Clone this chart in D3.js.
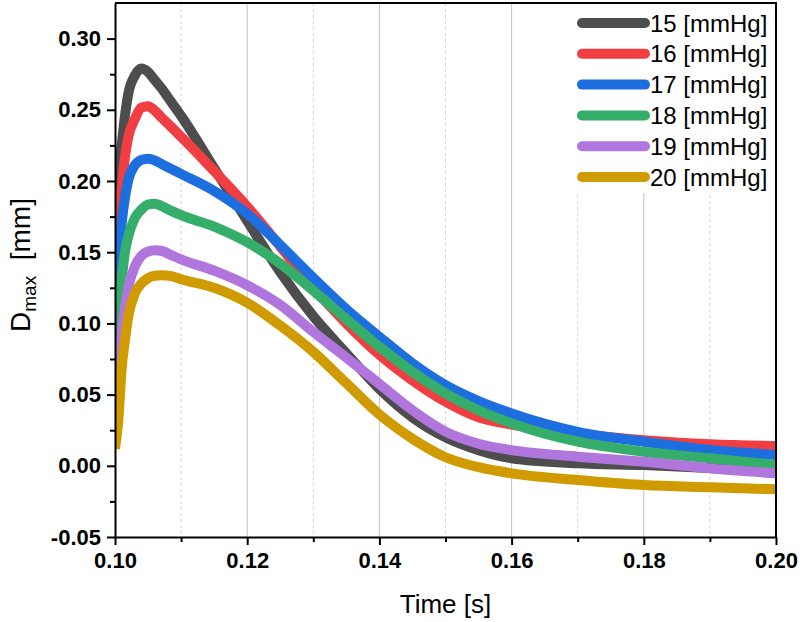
<!DOCTYPE html>
<html>
<head>
<meta charset="utf-8">
<script src="https://cdn.jsdelivr.net/npm/d3@7"></script>
<style>
  body { margin: 0; background: #fff; }
  .axis text { font-family: "Liberation Sans", Arial, sans-serif; font-weight: bold; font-size: 22px; fill: #000; }
  .axis path, .axis line { stroke: #000; stroke-width: 2; }
  .label { font-family: "Liberation Sans", Arial, sans-serif; fill: #000; }
</style>
</head>
<body>
<div id="chart"></div>
<script>
// time (s), shared by every curve
const times = [0.1000, 0.1005, 0.1010, 0.1015, 0.1020, 0.1030, 0.1040, 0.1050, 0.1060, 0.1070, 0.1085, 0.1100,
    0.1150, 0.1200, 0.1250, 0.1300, 0.1350, 0.1400, 0.1450, 0.1500, 0.1550, 0.1600, 0.1700, 0.1800, 0.1900, 0.2000];

// Dmax (mm) for each pressure
const p15 = [0.190, 0.208, 0.225, 0.2455, 0.261, 0.274, 0.279, 0.2766, 0.271, 0.2653, 0.2555, 0.2457,
    0.209, 0.172, 0.136, 0.105, 0.079, 0.054, 0.034, 0.020, 0.011, 0.0053, 0.0018, 0.0005, -0.0015, -0.004];
const p16 = [0.155, 0.175, 0.193, 0.2168, 0.2308, 0.2435, 0.2515, 0.2525, 0.2495, 0.2448, 0.238, 0.231,
    0.207, 0.182, 0.154, 0.125, 0.100, 0.078, 0.060, 0.045, 0.034, 0.029, 0.0225, 0.018, 0.0151, 0.0139];
const p17 = [0.120, 0.142, 0.170, 0.188, 0.2005, 0.211, 0.2148, 0.2157, 0.2145, 0.212, 0.2085, 0.205,
    0.193, 0.177, 0.155, 0.132, 0.110, 0.0906, 0.072, 0.0567, 0.0455, 0.0368, 0.0239, 0.0169, 0.0111, 0.0076];
const p18 = [0.082, 0.105, 0.130, 0.150, 0.161, 0.174, 0.180, 0.1835, 0.1841, 0.1825, 0.179, 0.176,
    0.168, 0.157, 0.142, 0.123, 0.103, 0.0836, 0.066, 0.0509, 0.039, 0.0298, 0.0169, 0.0099, 0.0053, 0.0006];
const p19 = [0.048, 0.062, 0.092, 0.111, 0.125, 0.140, 0.1475, 0.1505, 0.1514, 0.151, 0.148, 0.145,
    0.137, 0.1268, 0.113, 0.094, 0.076, 0.0575, 0.039, 0.024, 0.0155, 0.011, 0.0064, 0.0029, -0.0018, -0.0053];
const p20 = [0.012, 0.032, 0.068, 0.088, 0.1046, 0.121, 0.128, 0.1318, 0.1335, 0.1338, 0.1332, 0.131,
    0.125, 0.1145, 0.0985, 0.080, 0.058, 0.036, 0.019, 0.006, -0.001, -0.0053, -0.010, -0.0135, -0.0151, -0.0165];

const labels = ["15 [mmHg]", "16 [mmHg]", "17 [mmHg]", "18 [mmHg]", "19 [mmHg]", "20 [mmHg]"];
const colors = ["#4d4d4d", "#f03e42", "#1d6fe0", "#35ad6b", "#b076de", "#cf9b00"];

const xTicks = [0.10, 0.12, 0.14, 0.16, 0.18, 0.20];
const xMinor = [0.11, 0.13, 0.15, 0.17, 0.19];
const yTicks = [-0.05, 0.00, 0.05, 0.10, 0.15, 0.20, 0.25, 0.30];
const yMinor = [-0.025, 0.025, 0.075, 0.125, 0.175, 0.225, 0.275];

const series = [p15, p16, p17, p18, p19, p20];

const W = 800, H = 622;
const margin = { top: 3, right: 24, bottom: 85, left: 115 };
const width = W - margin.left - margin.right,
    height = H - margin.top - margin.bottom;

const svg = d3.select("#chart").append("svg")
    .attr("width", W)
    .attr("height", H);

const g = svg.append("g")
    .attr("transform", `translate(${margin.left},${margin.top})`);

const xScale = d3.scaleLinear().domain([0.10, 0.20]).range([0, width]);
const yScale = d3.scaleLinear().domain([-0.05, 0.325]).range([height, 0]);

// vertical grid: solid on majors, dashed on minors
g.append("g").selectAll("line")
    .data(xTicks.slice(1, -1))
    .join("line")
    .attr("x1", d => xScale(d)).attr("x2", d => xScale(d))
    .attr("y1", 0).attr("y2", height)
    .attr("stroke", "#c4c4c4").attr("stroke-width", 1);

g.append("g").selectAll("line")
    .data(xMinor)
    .join("line")
    .attr("x1", d => xScale(d)).attr("x2", d => xScale(d))
    .attr("y1", 0).attr("y2", height)
    .attr("stroke", "#d2d2d2").attr("stroke-width", 1)
    .attr("stroke-dasharray", "3,3");

// curves
g.append("clipPath").attr("id", "plotclip")
    .append("rect").attr("width", width).attr("height", height);

const line = d3.line()
    .curve(d3.curveMonotoneX)
    .x((d, i) => xScale(times[i]))
    .y(d => yScale(d));

g.append("g")
    .attr("clip-path", "url(#plotclip)")
    .selectAll("path")
    .data(series)
    .join("path")
    .attr("fill", "none")
    .attr("stroke", (d, i) => colors[i])
    .attr("stroke-width", 10)
    .attr("stroke-linejoin", "round")
    .attr("stroke-linecap", "butt")
    .attr("d", line);

// legend (white box hides the grid behind it)
const legend = g.append("g");
legend.append("rect")
    .attr("x", xScale(0.1693)).attr("y", 0)
    .attr("width", width - xScale(0.1693)).attr("height", 190)
    .attr("fill", "#fff");

labels.forEach(function (lab, i) {
    const y = 20 + i * 30.8;
    legend.append("line")
        .attr("x1", 467).attr("x2", 530)
        .attr("y1", y).attr("y2", y)
        .attr("stroke", colors[i])
        .attr("stroke-width", 10)
        .attr("stroke-linecap", "round");
    legend.append("text")
        .attr("class", "label")
        .attr("x", 535).attr("y", y + 8.5)
        .attr("font-size", 24)
        .text(lab);
});

// axes
const xAxis = d3.axisBottom(xScale)
    .tickValues(xTicks)
    .tickSize(8)
    .tickSizeOuter(0)
    .tickPadding(7)
    .tickFormat(d => d.toFixed(2));

const yAxis = d3.axisLeft(yScale)
    .tickValues(yTicks)
    .tickSize(8)
    .tickSizeOuter(0)
    .tickPadding(6)
    .tickFormat(d => d.toFixed(2));

g.append("g")
    .attr("class", "axis x-axis")
    .attr("transform", `translate(0, ${height})`)
    .call(xAxis);

g.append("g")
    .attr("class", "axis")
    .attr("transform", `translate(0, ${height})`)
    .call(d3.axisBottom(xScale).tickValues(xMinor).tickSize(5).tickFormat(""))
    .call(a => a.select(".domain").remove());

g.append("g")
    .attr("class", "axis y-axis")
    .call(yAxis);

g.append("g")
    .attr("class", "axis")
    .call(d3.axisLeft(yScale).tickValues(yMinor).tickSize(5).tickFormat(""))
    .call(a => a.select(".domain").remove());

// frame top + right
g.append("path")
    .attr("d", `M0,0H${width}V${height}`)
    .attr("fill", "none")
    .attr("stroke", "#000")
    .attr("stroke-width", 2);

// titles
svg.append("text")
    .attr("class", "label")
    .attr("x", margin.left + width / 2)
    .attr("y", 613)
    .attr("text-anchor", "middle")
    .attr("font-size", 26)
    .text("Time [s]");

const yt = svg.append("text")
    .attr("class", "label")
    .attr("transform", "translate(30, 265) rotate(-90)")
    .attr("text-anchor", "middle")
    .attr("font-size", 28);
yt.append("tspan").text("D");
yt.append("tspan").attr("font-size", 19).attr("dy", 6).text("max");
yt.append("tspan").attr("dy", -6).text("\u00a0 [mm]");
</script>
</body>
</html>
